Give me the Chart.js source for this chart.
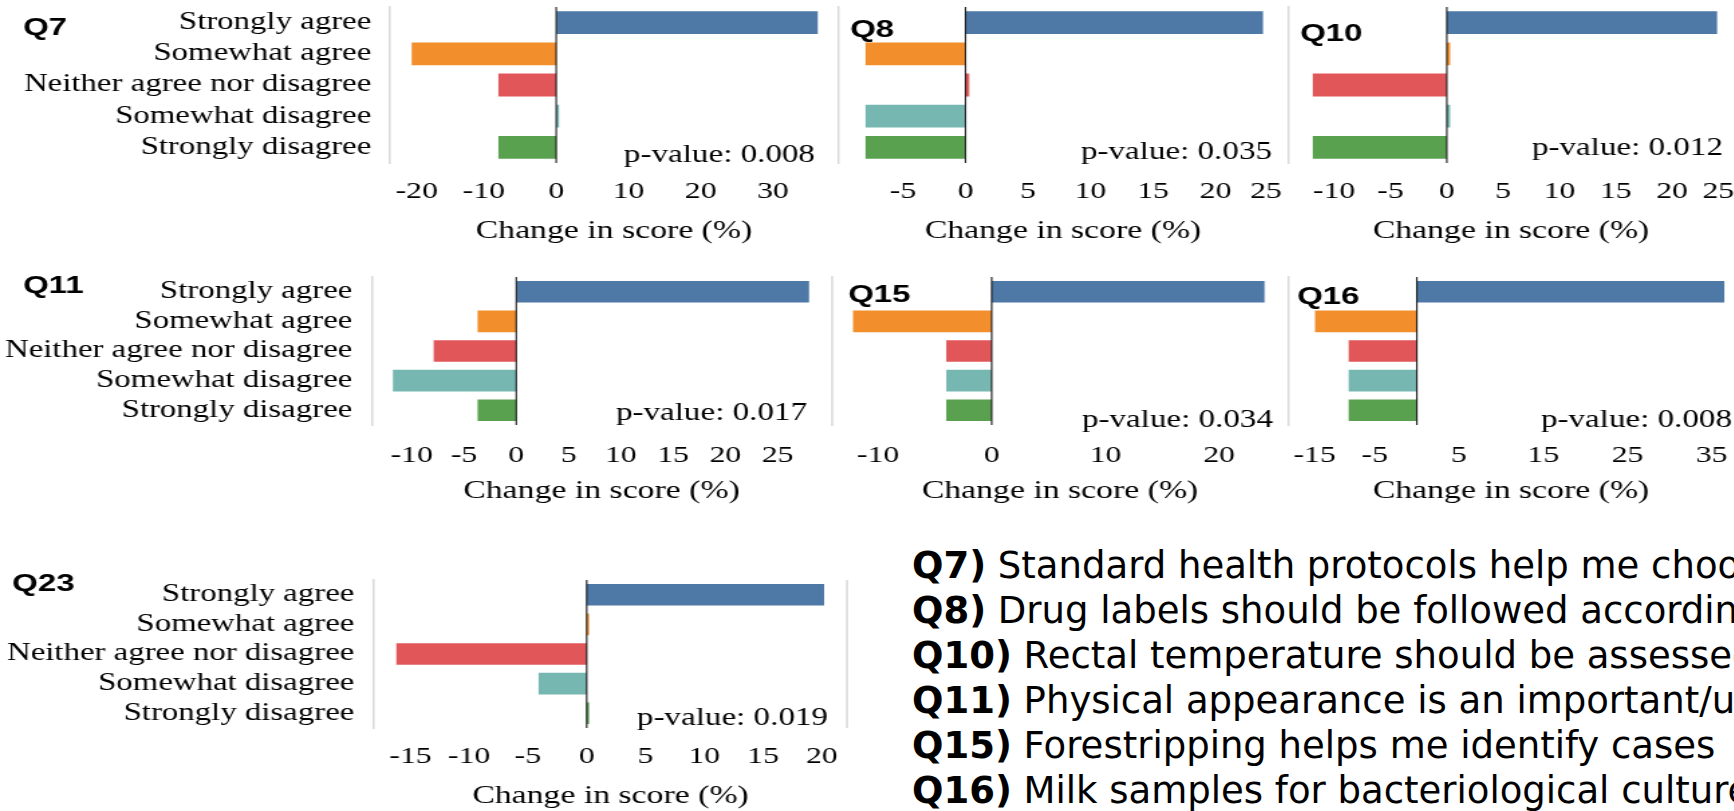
<!DOCTYPE html>
<html>
<head>
<meta charset="utf-8">
<title>Change in score by question</title>
<script src="https://cdn.jsdelivr.net/npm/chart.js@4.4.1/dist/chart.umd.min.js"></script>
<style>
  html, body { margin: 0; padding: 0; background: #fff; }
  body { position: relative; width: 1734px; height: 811px; overflow: hidden; }
  .panel { position: absolute; transform-origin: 0 0; }
  .panel canvas { display: block; }
  #notes { position: absolute; left: 912px; top: 0; font-family: "DejaVu Sans", sans-serif;
           font-size: 37px; color: #000; white-space: nowrap; }
  #notes div { position: absolute; left: 0; line-height: 37px; }
</style>
</head>
<body>
<div id="notes"></div>
<script>
// ---- data ----
const categories = ['Strongly agree', 'Somewhat agree', 'Neither agree nor disagree', 'Somewhat disagree', 'Strongly disagree'];
const barColors = ['#4e79a7', '#f28e2b', '#e15759', '#76b7b2', '#59a14f'];
const questions = ['Q7', 'Q8', 'Q10', 'Q11', 'Q15', 'Q16', 'Q23'];
const pValues = ['0.008', '0.035', '0.012', '0.017', '0.034', '0.008', '0.019'];

const q7Values  = [36.2, -20.0, -8.0, 0.4, -8.0];
const q8Values  = [23.8, -8.0, 0.3, -8.0, -8.0];
const q10Values = [24.0, 0.3, -11.9, 0.3, -11.9];
const q11Values = [28.0, -3.7, -7.9, -11.8, -3.7];
const q15Values = [24.0, -12.2, -4.0, -4.0, -4.0];
const q16Values = [36.5, -12.1, -8.1, -8.1, -8.1];
const q23Values = [20.2, 0.2, -16.2, -4.1, 0.2];

const q7Ticks  = [-20, -10, 0, 10, 20, 30];
const q8Ticks  = [-5, 0, 5, 10, 15, 20, 25];
const q10Ticks = [-10, -5, 0, 5, 10, 15, 20, 25];
const q11Ticks = [-10, -5, 0, 5, 10, 15, 20, 25];
const q15Ticks = [-10, 0, 10, 20];
const q16Ticks = [-15, -5, 5, 15, 25, 35];
const q23Ticks = [-15, -10, -5, 0, 5, 10, 15, 20];

const q7Range  = [-23.0, 39.0];
const q8Range  = [-10.2, 25.8];
const q10Range = [-14.1, 25.5];
const q11Range = [-13.8, 30.1];
const q15Range = [-14.05, 26.06];
const q16Range = [-15.3, 37.65];
const q23Range = [-18.1, 22.15];

const noteKeys = ['Q7)', 'Q8)', 'Q10)', 'Q11)', 'Q15)', 'Q16)'];
const noteTexts = [
  'Standard health protocols help me choose',
  'Drug labels should be followed according',
  'Rectal temperature should be assessed',
  'Physical appearance is an important/useful',
  'Forestripping helps me identify cases',
  'Milk samples for bacteriological culture'
];

// ---- layout (page pixels) ----
const STRETCH = 1.34;               // horizontal stretch applied to every panel
const SERIF = '"Liberation Serif", "Times New Roman", serif';
const SANS = '"Liberation Sans", Arial, sans-serif';
const FONT_CAT = 24.5, FONT_TICK = 23.7, FONT_TITLE = 25.2, FONT_P = 24.7, FONT_Q = 24.7;

const rows = {
  r1: { plotY: [7, 163],   canvasY: [0, 255],   axisH: 83.7, tickPad: 6.2 },
  r2: { plotY: [277, 425], canvasY: [255, 520], axisH: 81.7, tickPad: 8.7 },
  r3: { plotY: [580, 728], canvasY: [555, 830], axisH: 83.7, tickPad: 6.7 }
};

const panels = [
  { q: 0, values: q7Values,  ticks: q7Ticks,  range: q7Range,  row: 'r1', plotX: [390, 838],   canvasX: [0, 860],
    cats: true, catPad: 8, label: [23, 35],   pv: [815, 162],  nudge: { '-20': 5 } },
  { q: 1, values: q8Values,  ticks: q8Ticks,  range: q8Range,  row: 'r1', plotX: [838, 1288],  canvasX: [820, 1305],
    cats: false, label: [850, 37],  pv: [1272, 159], nudge: { '25': -12 } },
  { q: 2, values: q10Values, ticks: q10Ticks, range: q10Range, row: 'r1', plotX: [1288, 1734], canvasX: [1270, 1760],
    cats: false, label: [1300, 41], pv: [1723, 155], nudge: { '25': -10 } },
  { q: 3, values: q11Values, ticks: q11Ticks, range: q11Range, row: 'r2', plotX: [372, 831],   canvasX: [0, 850],
    cats: true, catPad: 9, label: [23, 293],  pv: [807, 420] },
  { q: 4, values: q15Values, ticks: q15Ticks, range: q15Range, row: 'r2', plotX: [832, 1288],  canvasX: [815, 1305],
    cats: false, label: [848, 302], pv: [1273, 427] },
  { q: 5, values: q16Values, ticks: q16Ticks, range: q16Range, row: 'r2', plotX: [1288, 1734], canvasX: [1270, 1760],
    cats: false, label: [1297, 304], pv: [1732, 427], nudge: { '-15': 24 } },
  { q: 6, values: q23Values, ticks: q23Ticks, range: q23Range, row: 'r3', plotX: [374, 847],   canvasX: [0, 870],
    cats: true, catPad: 9, label: [12, 591],  pv: [828, 725], rightBorder: true }
];

// zero line, frame, question tag and p-value text for each panel
const panelDecor = {
  id: 'panelDecor',
  beforeDraw(chart, args, o) {
    const sc = chart.scales.x;
    const items = sc.getLabelItems();
    if (!items._nudged) {
      items._nudged = true;
      items.forEach((it, i) => {
        const t = sc.ticks[i];
        const dx = o.nudge && t ? o.nudge[String(t.value)] : 0;
        if (dx) it.options.translation[0] += dx;
      });
    }
  },
  afterDatasetsDraw(chart, args, o) {
    const { ctx, chartArea: a } = chart;
    const x0 = chart.scales.x.getPixelForValue(0);
    ctx.save();
    ctx.strokeStyle = '#1a1a1a';
    ctx.lineWidth = 1.1;
    ctx.beginPath();
    ctx.moveTo(x0, a.top);
    ctx.lineTo(x0, a.bottom);
    ctx.stroke();
    if (o.rightBorder) {
      ctx.strokeStyle = '#d9d9d9';
      ctx.lineWidth = 1.5;
      ctx.beginPath();
      ctx.moveTo(a.right, a.top);
      ctx.lineTo(a.right, a.bottom);
      ctx.stroke();
    }
    ctx.fillStyle = '#000';
    ctx.font = 'bold ' + FONT_Q + 'px ' + SANS;
    ctx.textAlign = 'left';
    ctx.textBaseline = 'alphabetic';
    ctx.fillText(o.title, o.titleX, o.titleY);
    ctx.font = FONT_P + 'px ' + SERIF;
    ctx.textAlign = 'right';
    ctx.fillText('p-value: ' + o.p, o.pX, o.pY);
    ctx.restore();
  }
};

function makePanel(cfg) {
  const s = STRETCH;
  const row = rows[cfg.row];
  const cx0 = cfg.canvasX[0], cy0 = row.canvasY[0];
  const W = Math.round((cfg.canvasX[1] - cx0) / s);
  const H = row.canvasY[1] - cy0;

  const wrap = document.createElement('div');
  wrap.className = 'panel';
  wrap.style.left = cx0 + 'px';
  wrap.style.top = cy0 + 'px';
  wrap.style.transform = 'scaleX(' + s + ')';
  const cv = document.createElement('canvas');
  cv.width = W;
  cv.height = H;
  wrap.appendChild(cv);
  document.body.appendChild(wrap);

  const leftW = (cfg.plotX[0] - cx0) / s;
  const rightPad = W - (cfg.plotX[1] - cx0) / s;
  const topPad = row.plotY[0] - cy0;
  const bottomPad = H - (row.plotY[1] - cy0) - row.axisH;
  const nudge = {};
  if (cfg.nudge) Object.keys(cfg.nudge).forEach(k => { nudge[k] = cfg.nudge[k] / s; });

  const zeroPad = sc => { sc.paddingLeft = 0; sc.paddingRight = 0; sc.paddingTop = 0; sc.paddingBottom = 0; };

  new Chart(cv, {
    type: 'bar',
    data: {
      labels: categories,
      datasets: [{
        data: cfg.values,
        backgroundColor: barColors,
        borderWidth: 0,
        barPercentage: 0.73,
        categoryPercentage: 1
      }]
    },
    options: {
      responsive: false,
      animation: false,
      indexAxis: 'y',
      layout: { padding: { left: 0, right: rightPad, top: topPad, bottom: bottomPad } },
      plugins: {
        legend: { display: false },
        tooltip: { enabled: false },
        panelDecor: {
          title: questions[cfg.q],
          titleX: (cfg.label[0] - cx0) / s,
          titleY: cfg.label[1] - cy0,
          p: pValues[cfg.q],
          pX: (cfg.pv[0] - cx0) / s,
          pY: cfg.pv[1] - cy0,
          rightBorder: !!cfg.rightBorder,
          nudge: nudge
        }
      },
      scales: {
        x: {
          type: 'linear',
          min: cfg.range[0],
          max: cfg.range[1],
          grid: { display: false },
          border: { display: false },
          afterBuildTicks: sc => { sc.ticks = cfg.ticks.map(v => ({ value: v })); },
          ticks: {
            autoSkip: false,
            maxRotation: 0,
            minRotation: 0,
            padding: row.tickPad,
            color: '#000',
            font: { family: SERIF, size: FONT_TICK },
            callback: v => String(v)
          },
          title: {
            display: true,
            text: 'Change in score (%)',
            color: '#000',
            padding: 0,
            font: { family: SERIF, size: FONT_TITLE }
          },
          afterFit: sc => { sc.height = row.axisH; zeroPad(sc); }
        },
        y: {
          grid: { display: false },
          border: { display: true, color: '#d9d9d9', width: 1.5 },
          ticks: {
            display: cfg.cats,
            autoSkip: false,
            padding: (cfg.catPad || 8) / s,
            color: '#000',
            font: { family: SERIF, size: FONT_CAT }
          },
          afterFit: sc => { sc.width = leftW; zeroPad(sc); }
        }
      }
    },
    plugins: [panelDecor]
  });
}

panels.forEach(makePanel);

// question wording block
const noteBaselines = [578, 623, 668, 713, 758, 803];
const notes = document.getElementById('notes');
noteKeys.forEach((k, i) => {
  const d = document.createElement('div');
  d.style.top = (noteBaselines[i] - 31.3) + 'px';
  const b = document.createElement('b');
  b.textContent = k;
  d.appendChild(b);
  d.appendChild(document.createTextNode(' ' + noteTexts[i]));
  notes.appendChild(d);
});
</script>
</body>
</html>
